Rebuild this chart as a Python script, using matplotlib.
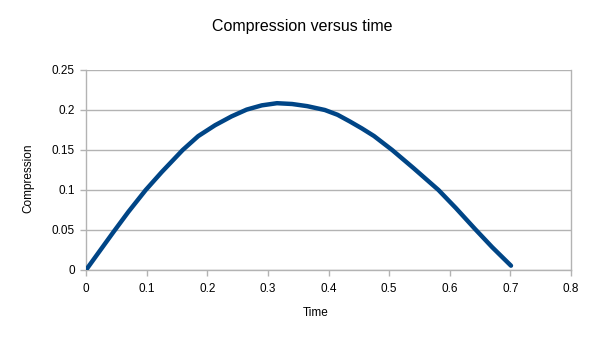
import matplotlib

matplotlib.use("Agg")
import matplotlib.pyplot as plt

plt.rcParams["font.family"] = ["Liberation Sans", "DejaVu Sans"]

# measured compression over the loading cycle
time_s = [0.0, 0.02, 0.045, 0.07, 0.0985, 0.125, 0.1595, 0.185, 0.213,
          0.24, 0.265, 0.29, 0.315, 0.34, 0.365, 0.394, 0.415, 0.4356,
          0.455, 0.475, 0.505, 0.54, 0.5814, 0.61, 0.642, 0.67, 0.701]
compression = [0.0, 0.021, 0.0472, 0.0728, 0.1, 0.1225, 0.15, 0.1673, 0.181,
               0.192, 0.2005, 0.2058, 0.2085, 0.2075, 0.2048, 0.2, 0.194,
               0.1855, 0.177, 0.1675, 0.15, 0.1275, 0.1, 0.0775, 0.051,
               0.0285, 0.0054]

x_ticks = [0, 0.1, 0.2, 0.3, 0.4, 0.5, 0.6, 0.7, 0.8]
x_labels = ["0", "0.1", "0.2", "0.3", "0.4", "0.5", "0.6", "0.7", "0.8"]
y_ticks = [0, 0.05, 0.1, 0.15, 0.2, 0.25]
y_labels = ["0", "0.05", "0.1", "0.15", "0.2", "0.25"]

GRID = "#b3b3b3"
LINE = "#004586"

fig = plt.figure(figsize=(6.05, 3.40), dpi=100)
ax = fig.add_axes([86 / 605, 1 - 270 / 340, (571 - 86) / 605, 200 / 340])

ax.plot(time_s, compression, color=LINE, lw=3.2,
        solid_capstyle="round", solid_joinstyle="round", zorder=3)

ax.set_xlim(0, 0.8)
ax.set_ylim(0, 0.25)
ax.set_xticks(x_ticks)
ax.set_xticklabels(x_labels)
ax.set_yticks(y_ticks)
ax.set_yticklabels(y_labels)
ax.yaxis.grid(True, color=GRID, lw=1)
ax.set_axisbelow(True)

for sp in ax.spines.values():
    sp.set_color(GRID)
    sp.set_linewidth(1)
ax.spines["top"].set_visible(False)
ax.tick_params(axis="both", colors=GRID, labelcolor="black",
               labelsize=8.5, length=4, width=1)
ax.tick_params(axis="x", pad=5)
ax.tick_params(axis="y", pad=4)

fig.text(0.5, 1 - 27 / 340, "Compression versus time",
         ha="center", va="center", fontsize=11.5)
fig.text(316 / 605, 1 - 313 / 340, "Time", ha="center", va="center",
         fontsize=8.5)
fig.text(28 / 605, 1 - 178 / 340, "Compression", ha="center", va="center",
         rotation=90, fontsize=8.5)

fig.savefig("out.png", dpi=100)
